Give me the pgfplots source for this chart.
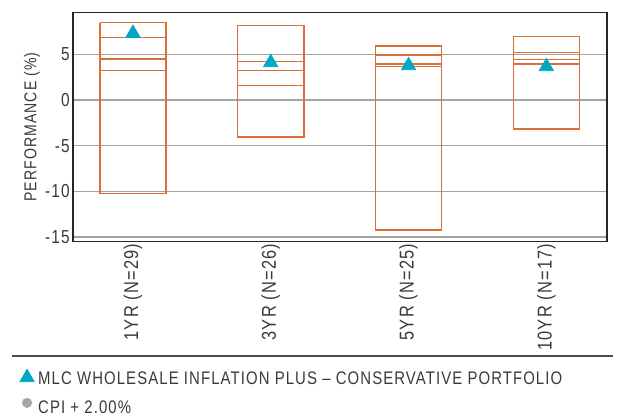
\documentclass[border=0pt]{standalone}
\usepackage{pgfplots}
\pgfplotsset{compat=1.18}
\usepackage{fontspec}
\setmainfont{Liberation Sans}[FakeStretch=0.82, LetterSpace=6]
\definecolor{boxorange}{HTML}{D9703C}
\definecolor{mlccyan}{HTML}{00A8C6}
\definecolor{gridgray}{HTML}{A3A3A3}
\definecolor{txt}{HTML}{3A3A3A}

\pgfplotsset{
  tri legend/.style={legend image code/.code={\draw[##1] plot coordinates {(0pt,1.2pt)};}},
  dot legend/.style={legend image code/.code={\draw[##1] plot coordinates {(0pt,3pt)};}},
}

% one percentile box: x, top, upper line, middle line, lower line, bottom
\newcommand\qbox[6]{%
  \addplot[boxorange, line width=0.7pt, forget plot] coordinates {
    ({#1-0.24},#2) ({#1+0.24},#2) ({#1+0.24},#6) ({#1-0.24},#6) ({#1-0.24},#2)
    (#1,nan) ({#1-0.24},#3) ({#1+0.24},#3)
    (#1,nan) ({#1-0.24},#4) ({#1+0.24},#4)
    (#1,nan) ({#1-0.24},#5) ({#1+0.24},#5)
  };}

\begin{document}
\begin{tikzpicture}
\useasboundingbox (-36.5pt,-86.85pt) rectangle (280.5pt,120.65pt);
\begin{axis}[
  at={(0,0)}, anchor=south west,
  scale only axis,
  width=267pt, height=114.3pt,
  xmin=-0.435, xmax=3.44,
  ymin=-15.47, ymax=9.56,
  unbounded coords=jump,
  xtick={0,1,2,3},
  xticklabels={1YR (N=29), 3YR (N=26), 5YR (N=25), 10YR (N=17)},
  xticklabel style={rotate=90, anchor=east, inner sep=1pt, font=\fontsize{10}{11}\selectfont, text=txt},
  ytick={-15,-10,-5,0,5},
  yticklabels={-15,-10,-5,0,5},
  yticklabel style={inner xsep=1.5pt, font=\fontsize{9.4}{10}\selectfont, text=txt},
  major tick length=0pt,
  ymajorgrids,
  grid style={gridgray, line width=0.7pt},
  axis line style={black!85, line width=0.7pt},
  ylabel={PERFORMANCE (\%)},
  every axis y label/.style={at={(axis description cs:-0.077,0.5)}, rotate=90, anchor=center,
    font=\fontsize{8.6}{10}\selectfont, text=txt},
  clip=false,
  legend style={at={(axis description cs:-0.1,-0.553)}, anchor=north west, draw=none, fill=none,
    font=\fontsize{9.1}{10}\selectfont, text=txt, row sep=2.6pt, inner sep=0pt,
    /tikz/every even column/.style={column sep=0pt}},
  legend cell align=left,
]
\qbox{0}{8.47}{6.87}{4.49}{3.21}{-10.22}
\qbox{1}{8.18}{4.20}{3.25}{1.57}{-4.05}
\qbox{2}{5.91}{4.93}{3.94}{3.65}{-14.24}
\qbox{3}{6.93}{5.18}{4.41}{3.94}{-3.18}

\addplot[only marks, mark=triangle*, mark size=4.1pt, color=mlccyan, tri legend]
  coordinates {(0,7.30) (1,4.10) (2,3.77) (3,3.66)};
\addlegendentry{MLC WHOLESALE INFLATION PLUS – CONSERVATIVE PORTFOLIO}
\addlegendimage{only marks, mark=*, mark size=2.3pt, color=gray!70, dot legend}
\addlegendentry{CPI + 2.00\%}

\draw[black!70, line width=0.6pt] (rel axis cs:-0.1142,-0.5017) -- (rel axis cs:1.0112,-0.5017);
\end{axis}
\end{tikzpicture}
\end{document}
